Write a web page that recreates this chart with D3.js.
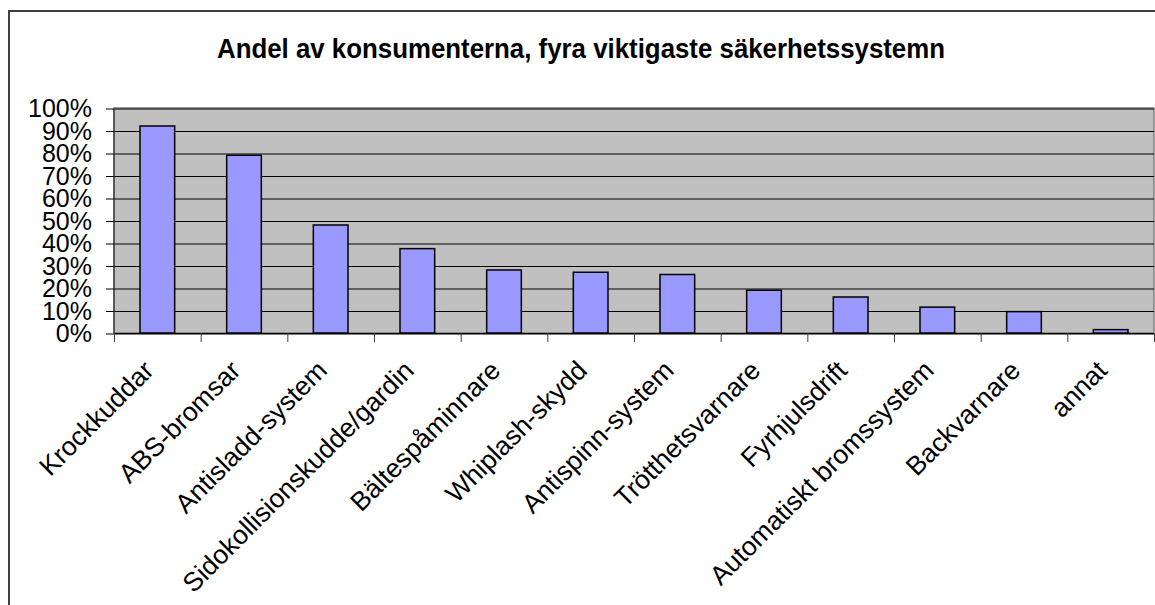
<!DOCTYPE html>
<html>
<head>
<meta charset="utf-8">
<script src="https://cdn.jsdelivr.net/npm/d3@7"></script>
<style>
  body { margin: 0; background: #fff; }
  svg { display: block; font-family: Arial, "Liberation Sans", sans-serif; }
</style>
</head>
<body>
<div id="chart"></div>
<script>
const title = "Andel av konsumenterna, fyra viktigaste säkerhetssystemn";
const categories = ["Krockkuddar", "ABS-bromsar", "Antisladd-system", "Sidokollisionskudde/gardin",
  "Bältespåminnare", "Whiplash-skydd", "Antispinn-system", "Trötthetsvarnare",
  "Fyrhjulsdrift", "Automatiskt bromssystem", "Backvarnare", "annat"];
const values = [0.92, 0.79, 0.48, 0.375, 0.28, 0.27, 0.26, 0.19, 0.16, 0.115, 0.095, 0.015];
const yTicks = [0, 0.1, 0.2, 0.3, 0.4, 0.5, 0.6, 0.7, 0.8, 0.9, 1.0];

const width = 1155, height = 605;
const plot = { left: 114, right: 1154, top: 108, bottom: 333 };

const svg = d3.select("#chart").append("svg")
    .attr("width", width)
    .attr("height", height);

// chart frame (runs off the right and bottom edge)
svg.append("path")
    .attr("d", `M9,${height + 2}V11H${width + 2}`)
    .attr("fill", "none")
    .attr("stroke", "#404040")
    .attr("stroke-width", 2);

svg.append("text")
    .attr("x", 581)
    .attr("y", 58)
    .attr("text-anchor", "middle")
    .attr("font-size", 28)
    .attr("font-weight", "bold")
    .attr("textLength", 728)
    .attr("lengthAdjust", "spacingAndGlyphs")
    .text(title);

const x = d3.scaleBand()
    .domain(categories)
    .range([plot.left, plot.right])
    .paddingInner(0.6)
    .paddingOuter(0.3);

const xIdx = d3.scaleLinear()
    .domain([0, categories.length])
    .range([plot.left, plot.right]);

const y = d3.scaleLinear()
    .domain([0, 1])
    .range([plot.bottom, plot.top]);

// plot area
svg.append("rect")
    .attr("x", plot.left)
    .attr("y", plot.top)
    .attr("width", plot.right - plot.left)
    .attr("height", plot.bottom - plot.top)
    .attr("fill", "#c0c0c0")
    .attr("stroke", "#808080")
    .attr("stroke-width", 1.5);

// gridlines
svg.append("g")
    .attr("transform", `translate(${plot.left},0.5)`)
    .call(d3.axisLeft(y).tickValues(yTicks).tickSize(-(plot.right - plot.left)).tickFormat(""))
    .call(g => g.select(".domain").remove())
    .call(g => g.selectAll("line").attr("stroke", "#000"));

// bars
svg.append("g")
    .selectAll("rect")
    .data(values)
    .join("rect")
    .attr("x", (d, i) => x(categories[i]))
    .attr("y", d => y(d))
    .attr("width", x.bandwidth())
    .attr("height", d => y(0) - y(d))
    .attr("fill", "#9999ff")
    .attr("stroke", "#000")
    .attr("stroke-width", 1.5);

// y axis
const yAxis = svg.append("g")
    .attr("transform", `translate(${plot.left},0.5)`)
    .call(d3.axisLeft(y).tickValues(yTicks).tickSize(8).tickPadding(14).tickFormat(d3.format(".0%")));
yAxis.select(".domain").attr("stroke", "#404040").attr("stroke-width", 1.5).attr("d", `M0,${plot.top}V${plot.bottom}`);
yAxis.selectAll("line").attr("stroke", "#000");
yAxis.selectAll("text").attr("font-size", 25).attr("font-family", "Arial, 'Liberation Sans', sans-serif").attr("fill", "#000");

// x axis ticks
const xAxis = svg.append("g")
    .attr("transform", `translate(0,${plot.bottom})`)
    .call(d3.axisBottom(xIdx).tickValues(d3.range(categories.length + 1)).tickSize(9).tickFormat(""));
xAxis.select(".domain").attr("stroke", "#000").attr("d", `M${plot.left},0.5H${plot.right}`);
xAxis.selectAll("line").attr("stroke", "#404040");

// rotated category labels
svg.append("g")
    .selectAll("text")
    .data(categories)
    .join("text")
    .attr("transform", d => `translate(${x(d) + x.bandwidth() / 2 - 2},372) rotate(-45)`)
    .attr("text-anchor", "end")
    .attr("font-size", 26.5)
    .attr("fill", "#000")
    .text(d => d);
</script>
</body>
</html>
